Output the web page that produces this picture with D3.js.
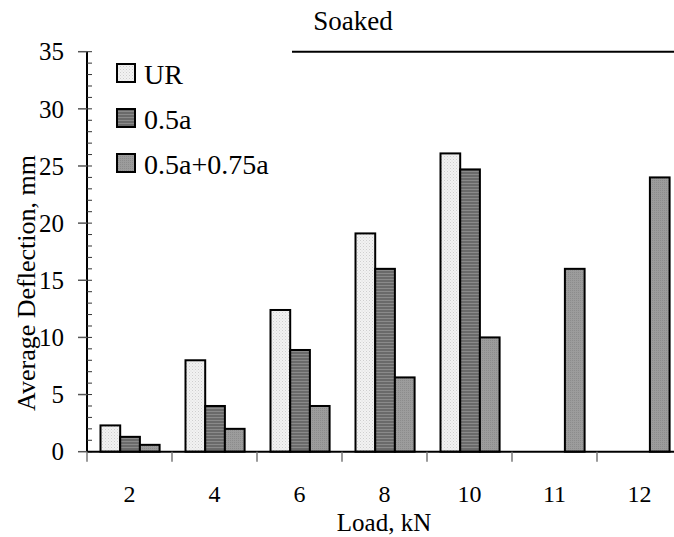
<!DOCTYPE html>
<html>
<head>
<meta charset="utf-8">
<script src="https://cdn.jsdelivr.net/npm/d3@7"></script>
<style>
  html, body { margin: 0; padding: 0; background: #fff; }
  svg { display: block; }
</style>
</head>
<body>
<svg id="chart" width="674" height="537"></svg>
<script>
const categories = ["2", "4", "6", "8", "10", "11", "12"];
const seriesNames = ["UR", "0.5a", "0.5a+0.75a"];
const valuesUR = [2.3, 8.0, 12.4, 19.1, 26.1, null, null];
const values05a = [1.3, 4.0, 8.9, 16.0, 24.7, null, null];
const values05a075a = [0.6, 2.0, 4.0, 6.5, 10.0, 16.0, 24.0];
const yTicks = [0, 5, 10, 15, 20, 25, 30, 35];
const xTitle = "Load, kN";
const yTitle = "Average Deflection, mm";
const annotation = "Soaked";

const seriesValues = [valuesUR, values05a, values05a075a];

(function () {
const svg = d3.select("#chart").attr("font-family", "'Liberation Serif', 'Times New Roman', Times, serif");
const defs = svg.append("defs");

const p1 = defs.append("pattern").attr("id", "patUR").attr("patternUnits", "userSpaceOnUse")
  .attr("width", 3).attr("height", 3);
p1.append("rect").attr("width", 3).attr("height", 3).attr("fill", "#f2f2f2");
p1.append("rect").attr("x", 0).attr("y", 0).attr("width", 1).attr("height", 1).attr("fill", "#cfcfcf");
p1.append("rect").attr("x", 1.5).attr("y", 1.5).attr("width", 1).attr("height", 1).attr("fill", "#dcdcdc");

const p2 = defs.append("pattern").attr("id", "pat05").attr("patternUnits", "userSpaceOnUse")
  .attr("width", 4).attr("height", 3);
p2.append("rect").attr("width", 4).attr("height", 3).attr("fill", "#6a6a6a");
p2.append("rect").attr("x", 0).attr("y", 0).attr("width", 4).attr("height", 1).attr("fill", "#8a8a8a");

const p3 = defs.append("pattern").attr("id", "pat075").attr("patternUnits", "userSpaceOnUse")
  .attr("width", 2).attr("height", 2);
p3.append("rect").attr("width", 2).attr("height", 2).attr("fill", "#9c9c9c");
p3.append("rect").attr("x", 0).attr("y", 0).attr("width", 1).attr("height", 1).attr("fill", "#8c8c8c");

const fills = ["url(#patUR)", "url(#pat05)", "url(#pat075)"];

const plotLeft = 87, plotTop = 51.7, plotBottom = 451.7;
const bandW = 85;
const x = d3.scaleBand().domain(categories).range([plotLeft, plotLeft + bandW * categories.length]).padding(0);
const xInner = d3.scaleBand().domain(seriesNames).range([13.5, 13.5 + 3 * 19.7]).padding(0);
const y = d3.scaleLinear().domain([0, 35]).range([plotBottom, plotTop]);

seriesNames.forEach((s, si) => {
  const data = categories.map((c, i) => ({ c, v: seriesValues[si][i] })).filter(d => d.v != null);
  svg.append("g").selectAll("rect").data(data).join("rect")
    .attr("x", d => x(d.c) + xInner(s))
    .attr("y", d => y(d.v))
    .attr("width", xInner.bandwidth())
    .attr("height", d => y(0) - y(d.v))
    .attr("fill", fills[si])
    .attr("stroke", "#000")
    .attr("stroke-width", 2);
});

const yAxisG = svg.append("g");
yAxisG.append("line").attr("x1", plotLeft).attr("x2", plotLeft).attr("y1", y(35)).attr("y2", y(0))
  .attr("stroke", "#000").attr("stroke-width", 2);
yAxisG.selectAll("line.minor").data(d3.range(0, 36)).join("line").attr("class", "minor")
  .attr("x1", plotLeft).attr("x2", plotLeft + 5)
  .attr("y1", d => y(d)).attr("y2", d => y(d))
  .attr("stroke", "#333").attr("stroke-width", 1);
yAxisG.selectAll("line.major").data(yTicks).join("line").attr("class", "major")
  .attr("x1", plotLeft - 9).attr("x2", plotLeft)
  .attr("y1", d => y(d)).attr("y2", d => y(d))
  .attr("stroke", "#555").attr("stroke-width", 1.5);
yAxisG.selectAll("text").data(yTicks).join("text")
  .attr("x", 64).attr("y", d => y(d)).attr("dy", "0.35em")
  .attr("text-anchor", "end").attr("font-size", 25).attr("fill", "#000").text(d => d);

const xAxisG = svg.append("g");
xAxisG.append("line").attr("x1", plotLeft).attr("x2", 674).attr("y1", plotBottom).attr("y2", plotBottom)
  .attr("stroke", "#000").attr("stroke-width", 2);
xAxisG.selectAll("line.tick").data(categories).join("line").attr("class", "tick")
  .attr("x1", d => x(d)).attr("x2", d => x(d))
  .attr("y1", plotBottom).attr("y2", plotBottom + 10)
  .attr("stroke", "#777").attr("stroke-width", 1.5);
xAxisG.selectAll("text").data(categories).join("text")
  .attr("x", d => x(d) + x.bandwidth() / 2).attr("y", 502)
  .attr("text-anchor", "middle").attr("font-size", 24).attr("fill", "#000").text(d => d);

svg.append("text").attr("x", 384).attr("y", 531).attr("text-anchor", "middle")
  .attr("font-size", 25).attr("fill", "#000").text(xTitle);
svg.append("text").attr("transform", "translate(35,283) rotate(-90)")
  .attr("text-anchor", "middle").attr("font-size", 26).attr("fill", "#000").text(yTitle);

svg.append("text").attr("x", 353).attr("y", 30).attr("text-anchor", "middle")
  .attr("font-size", 27).attr("fill", "#000").text(annotation);
svg.append("line").attr("x1", 292).attr("x2", 674).attr("y1", 51.7).attr("y2", 51.7)
  .attr("stroke", "#000").attr("stroke-width", 2);

const legend = svg.append("g");
seriesNames.forEach((s, i) => {
  const ly = 64 + i * 45;
  legend.append("rect").attr("x", 117).attr("y", ly).attr("width", 18).attr("height", 18)
    .attr("fill", fills[i]).attr("stroke", "#000").attr("stroke-width", 2);
  legend.append("text").attr("x", 144).attr("y", ly + 20).attr("font-size", 28).attr("fill", "#000").text(s);
});
})();
</script>
</body>
</html>
